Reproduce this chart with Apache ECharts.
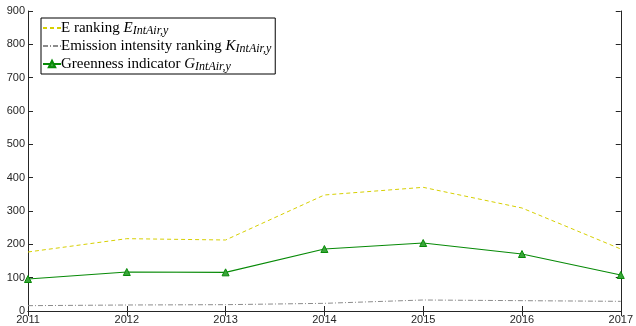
<!DOCTYPE html>
<html><head><meta charset="utf-8">
<script src="https://cdn.jsdelivr.net/npm/echarts@6/dist/echarts.min.js"></script>
<style>html,body{margin:0;padding:0;background:#fff}#c{width:636px;height:326px}</style>
</head><body><div id="c"></div>
<script>
const years = ['2011','2012','2013','2014','2015','2016','2017'];
const eRanking = [177, 217, 213, 348, 371, 309, 186];
const kRanking = [16, 18, 19, 23, 33, 31, 29];
const gIndicator = [96, 117, 116, 186, 204, 171, 108];
const yTicks = [0, 900, 100];

const chart = echarts.init(document.getElementById('c'));
const axisLab = {color:'#262626', fontFamily:'Liberation Sans, Arial', fontSize:11};
const rich = {
  t:{fontFamily:'Liberation Serif', fontSize:15, color:'#000', lineHeight:16},
  i:{fontFamily:'Liberation Serif', fontSize:15, fontStyle:'italic', color:'#000', lineHeight:16},
  s:{fontFamily:'Liberation Serif', fontSize:12, fontStyle:'italic', color:'#000', padding:[6,0,0,0], lineHeight:16}
};
chart.setOption({
  animation:false,
  grid:{left:28, right:13, top:11, bottom:15},
  legend:{
    left:41, top:18, orient:'vertical', itemWidth:18, itemHeight:8, itemGap:0,
    padding:[1,4,1,1], borderColor:'#000', borderWidth:1, backgroundColor:'#fff',
    formatter:function(n){
      if(n==='E') return '{t|E ranking }{i|E}{s|IntAir,y}';
      if(n==='K') return '{t|Emission intensity ranking }{i|K}{s|IntAir,y}';
      return '{t|Greenness indicator }{i|G}{s|IntAir,y}';
    },
    textStyle:{rich:rich, padding:[0,0,0,-5]},
    data:[{name:'E', itemStyle:{opacity:0}}, {name:'K', itemStyle:{opacity:0}}, 'G']
  },
  xAxis:[{
    type:'category', data:years, boundaryGap:false,
    axisLine:{lineStyle:{color:'#262626', width:1}},
    axisTick:{inside:true, length:5, lineStyle:{color:'#262626'}},
    axisLabel:Object.assign({margin:3}, axisLab),
  },{
    type:'category', data:years, boundaryGap:false, position:'top',
    axisLine:{lineStyle:{color:'#262626', width:1}},
    axisTick:{inside:true, length:5, lineStyle:{color:'#262626'}},
    axisLabel:{show:false}
  }],
  yAxis:[{
    type:'value', min:yTicks[0], max:yTicks[1], interval:yTicks[2],
    axisLine:{show:true, lineStyle:{color:'#262626', width:1}},
    axisTick:{show:true, inside:true, length:5, lineStyle:{color:'#262626'}},
    axisLabel:Object.assign({margin:3}, axisLab),
    splitLine:{show:false}
  },{
    type:'value', min:yTicks[0], max:yTicks[1], interval:yTicks[2], position:'right',
    axisLine:{show:true, lineStyle:{color:'#262626', width:1}},
    axisTick:{show:true, inside:true, length:5, lineStyle:{color:'#262626'}},
    axisLabel:{show:false}, splitLine:{show:false}
  }],
  series:[
    {name:'E', type:'line', data:eRanking, symbol:'none',
     lineStyle:{color:'#d6cf00', width:1, type:[4,3]}, itemStyle:{color:'#d6cf00'}},
    {name:'K', type:'line', data:kRanking, symbol:'none',
     lineStyle:{color:'#8c8c8c', width:1, type:[5,2,1,2]}, itemStyle:{color:'#8c8c8c'}},
    {name:'G', type:'line', data:gIndicator, symbol:'triangle', symbolSize:7,
     lineStyle:{color:'#078a07', width:1.2}, itemStyle:{color:'#3aa53a', borderColor:'#078a07', borderWidth:1}}
  ]
});
</script></body></html>
